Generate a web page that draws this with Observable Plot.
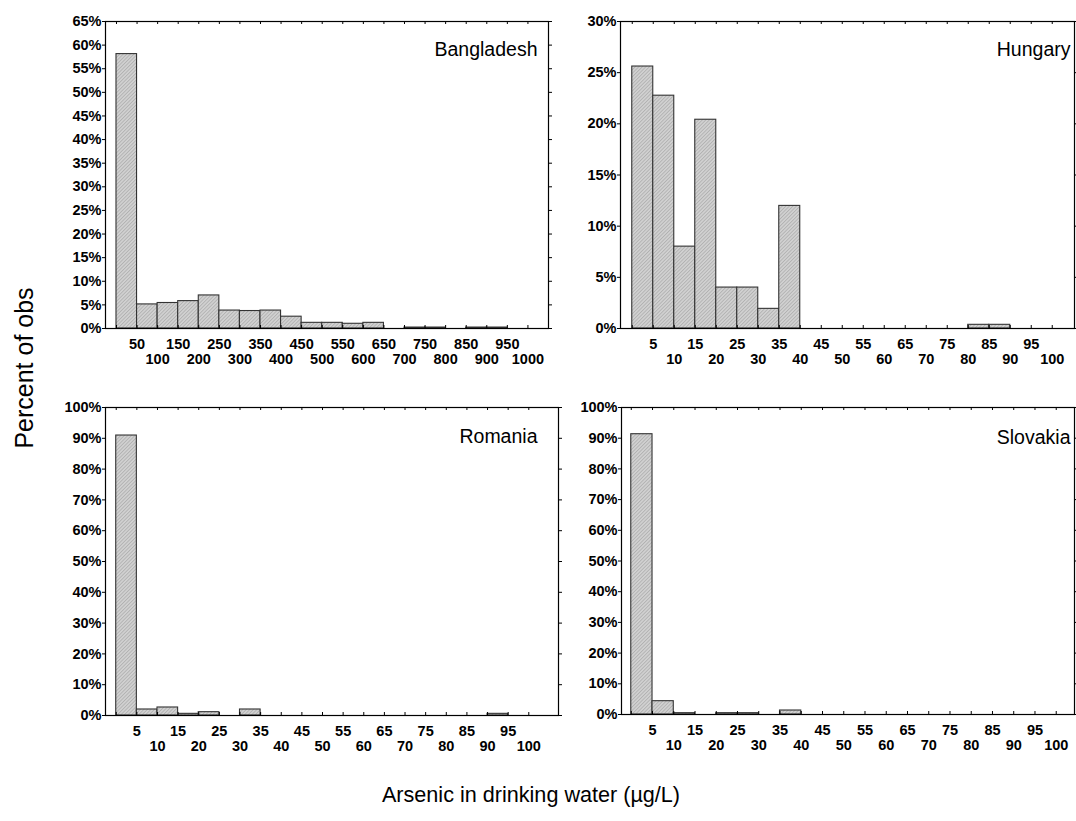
<!DOCTYPE html>
<html><head><meta charset="utf-8">
<script src="https://cdn.jsdelivr.net/npm/d3@7"></script>
<script src="https://cdn.jsdelivr.net/npm/@observablehq/plot@0.6"></script>
<style>
body{margin:0;background:#fff;}
#root{position:relative;width:1076px;height:821px;overflow:hidden;font-family:"Liberation Sans",Arial,sans-serif;color:#000;}
.panel{position:absolute;}
.ytitle{position:absolute;z-index:5;left:24px;top:368px;transform:translate(-50%,-50%) rotate(-90deg);font-size:25px;white-space:nowrap;}
.xtitle{position:absolute;z-index:5;left:531px;top:795px;transform:translate(-50%,-50%);font-size:21.6px;white-space:nowrap;}
</style></head><body><div id="root"><div class="ytitle">Percent of obs</div><div class="xtitle">Arsenic in drinking water (µg/L)</div></div>
<script>
// ---- data ----
const countries = ["Bangladesh", "Hungary", "Romania", "Slovakia"];
const bdBinStarts = [0,50,100,150,200,250,300,350,400,450,500,550,600,650,700,750,800,850,900,950];
const smallBinStarts = [0,5,10,15,20,25,30,35,40,45,50,55,60,65,70,75,80,85,90,95];
const bdBinWidth = 50;
const smallBinWidth = 5;
const bangladeshPct = [58.1,5.1,5.4,5.8,7.0,3.8,3.7,3.8,2.5,1.2,1.2,1.0,1.2,0,0.2,0.2,0,0.2,0.2,0];
const hungaryPct    = [25.6,22.75,8.0,20.4,4.0,4.0,1.92,11.98,0,0,0,0,0,0,0,0,0.36,0.36,0,0];
const romaniaPct    = [90.9,1.95,2.6,0.54,1.08,0,1.95,0,0,0,0,0,0,0,0,0,0,0,0.54,0];
const slovakiaPct   = [91.3,4.34,0.43,0,0.43,0.43,0,1.3,0,0,0,0,0,0,0,0,0,0,0,0];
const bdTickMarks = [0,50,100,150,200,250,300,350,400,450,500,550,600,650,700,750,800,850,900,950,1000];
const smallTickMarks = [0,5,10,15,20,25,30,35,40,45,50,55,60,65,70,75,80,85,90,95,100];
const bdLabelsTop = [50,150,250,350,450,550,650,750,850,950];
const bdLabelsBottom = [100,200,300,400,500,600,700,800,900,1000];
const smallLabelsTop = [5,15,25,35,45,55,65,75,85,95];
const smallLabelsBottom = [10,20,30,40,50,60,70,80,90,100];
const bdYTicks = [0,5,10,15,20,25,30,35,40,45,50,55,60,65];
const huYTicks = [0,5,10,15,20,25,30];
const pct100YTicks = [0,10,20,30,40,50,60,70,80,90,100];

// ---- drawing ----
const root = document.getElementById("root");
const NS = "http://www.w3.org/2000/svg";

function addPattern(svg, id) {
  const defs = document.createElementNS(NS, "defs");
  const pat = document.createElementNS(NS, "pattern");
  pat.setAttribute("id", id);
  pat.setAttribute("width", "2.5");
  pat.setAttribute("height", "2.5");
  pat.setAttribute("patternUnits", "userSpaceOnUse");
  pat.setAttribute("patternTransform", "rotate(45)");
  const r = document.createElementNS(NS, "rect");
  r.setAttribute("width", "2.5"); r.setAttribute("height", "2.5"); r.setAttribute("fill", "#d2d2d2");
  const l = document.createElementNS(NS, "line");
  l.setAttribute("x1", "0.5"); l.setAttribute("y1", "0"); l.setAttribute("x2", "0.5"); l.setAttribute("y2", "2.5");
  l.setAttribute("stroke", "#acacac"); l.setAttribute("stroke-width", "0.8");
  pat.appendChild(r); pat.appendChild(l); defs.appendChild(pat);
  svg.insertBefore(defs, svg.firstChild);
}

function panel(o) {
  const innerH = o.h - o.m.top - o.m.bottom;
  const data = o.starts.map((s, i) => ({x1: s, x2: s + o.binWidth, y: o.pct[i]})).filter(d => d.y > 0);
  const chart = Plot.plot({
    width: o.w, height: o.h,
    marginLeft: o.m.left, marginRight: o.m.right, marginTop: o.m.top, marginBottom: o.m.bottom,
    style: {fontFamily: "'Liberation Sans', Arial, sans-serif", fontSize: "14.5px", fontWeight: "bold", background: "transparent", overflow: "visible", color: "#000"},
    x: {domain: o.xDomain, axis: null},
    y: {domain: o.yDomain, axis: null},
    marks: [
      Plot.rectY(data, {x1: "x1", x2: "x2", y: "y", fill: `url(#${o.id})`, stroke: "#333", strokeWidth: 1.1}),
      Plot.frame({stroke: "#000", strokeWidth: 1.2}),
      Plot.axisY(o.yTicks, {anchor: "left", tickSize: 3, tickPadding: 1, tickFormat: d => d + "%", label: null, fontSize: 14.5, fontWeight: "bold"}),
      Plot.axisY(o.yTicks, {anchor: "right", tickSize: 3, tickFormat: () => "", label: null}),
      Plot.tickX(o.ticks, {x: d => d, insetTop: innerH - 3, stroke: "#000"}),
      Plot.tickX(o.ticks, {x: d => d, insetBottom: innerH - 3, stroke: "#000"}),
      Plot.text(o.labelsTop, {x: d => d, text: d => String(d), frameAnchor: "bottom", dy: 16.3, lineAnchor: "middle", fontSize: 14.5, fontWeight: "bold"}),
      Plot.text(o.labelsBottom, {x: d => d, text: d => String(d), frameAnchor: "bottom", dy: 31.3, lineAnchor: "middle", fontSize: 14.5, fontWeight: "bold"}),
      Plot.text([o.name], {frameAnchor: "top-right", dx: o.nameDx, dy: o.nameDy, lineAnchor: "middle", fontSize: 19.5, fontWeight: "normal"})
    ]
  });
  addPattern(chart, o.id);
  chart.classList.add("panel");
  chart.style.left = o.left + "px";
  chart.style.top = o.top + "px";
  chart.style.position = "absolute";
  root.appendChild(chart);
}

panel({name: countries[0], id: "hatchBD", starts: bdBinStarts, binWidth: bdBinWidth, pct: bangladeshPct,
  xDomain: [-26.7, 1050], yDomain: [0, 65], yTicks: bdYTicks, ticks: bdTickMarks,
  labelsTop: bdLabelsTop, labelsBottom: bdLabelsBottom,
  left: 0, top: 0, w: 560, h: 380, m: {left: 105, right: 12, top: 21, bottom: 52}, nameDx: -11, nameDy: 28});

panel({name: countries[1], id: "hatchHU", starts: smallBinStarts, binWidth: smallBinWidth, pct: hungaryPct,
  xDomain: [-2.8, 105.3], yDomain: [0, 30], yTicks: huYTicks, ticks: smallTickMarks,
  labelsTop: smallLabelsTop, labelsBottom: smallLabelsBottom,
  left: 560, top: 0, w: 516, h: 380, m: {left: 60, right: 2, top: 21, bottom: 52}, nameDx: -4, nameDy: 28});

panel({name: countries[2], id: "hatchRO", starts: smallBinStarts, binWidth: smallBinWidth, pct: romaniaPct,
  xDomain: [-2.6, 107.2], yDomain: [0, 100], yTicks: pct100YTicks, ticks: smallTickMarks,
  labelsTop: smallLabelsTop, labelsBottom: smallLabelsBottom,
  left: 0, top: 386, w: 560, h: 380, m: {left: 105, right: 2, top: 21, bottom: 51}, nameDx: -21, nameDy: 29});

panel({name: countries[3], id: "hatchSK", starts: smallBinStarts, binWidth: smallBinWidth, pct: slovakiaPct,
  xDomain: [-2.3, 104.3], yDomain: [0, 100], yTicks: pct100YTicks, ticks: smallTickMarks,
  labelsTop: smallLabelsTop, labelsBottom: smallLabelsBottom,
  left: 560, top: 386, w: 516, h: 380, m: {left: 61, right: 2, top: 21, bottom: 52}, nameDx: -4, nameDy: 30});
</script>
</body></html>
